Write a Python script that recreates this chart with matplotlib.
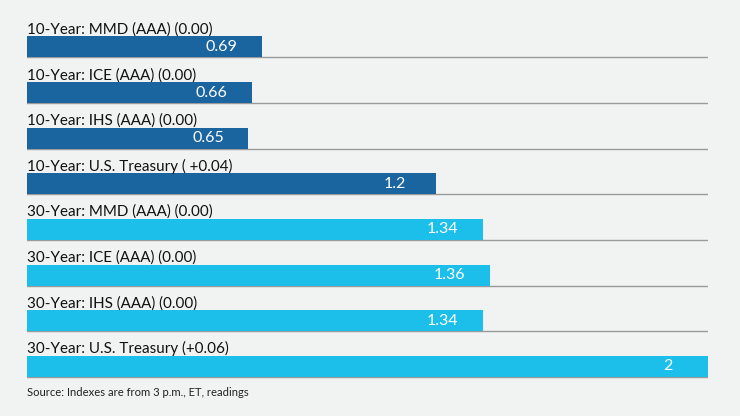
import matplotlib
matplotlib.use("Agg")
import matplotlib.pyplot as plt

LABELS = [
    "10-Year: MMD (AAA) (0.00)",
    "10-Year: ICE (AAA) (0.00)",
    "10-Year: IHS (AAA) (0.00)",
    "10-Year: U.S. Treasury ( +0.04)",
    "30-Year: MMD (AAA) (0.00)",
    "30-Year: ICE (AAA) (0.00)",
    "30-Year: IHS (AAA) (0.00)",
    "30-Year: U.S. Treasury (+0.06)",
]
VALUES = [0.69, 0.66, 0.65, 1.2, 1.34, 1.36, 1.34, 2]
VALUE_TEXT = ["0.69", "0.66", "0.65", "1.2", "1.34", "1.36", "1.34", "2"]
TENOR = ["10", "10", "10", "10", "30", "30", "30", "30"]
SOURCE = "Source: Indexes are from 3 p.m., ET, readings"

BG = "#f1f2f2"
COLORS = {"10": "#1a65a0", "30": "#1cbeea"}
BAR_H = 0.46

plt.rcParams["font.family"] = ["Lato", "DejaVu Sans"]

fig = plt.figure(figsize=(7.4, 4.16), dpi=100, facecolor=BG)
ax = fig.add_axes([27 / 740, 0, 681 / 740, 1])
ax.set_facecolor(BG)

ypos = list(range(len(VALUES)))
ax.barh(ypos, VALUES, height=BAR_H,
        color=[COLORS[t] for t in TENOR], zorder=2)

for y, v, txt, lab in zip(ypos, VALUES, VALUE_TEXT, LABELS):
    ax.axhline(y + BAR_H / 2, color="#9a9a9a", lw=1, zorder=1)
    ax.text(0, y - 0.29, lab, fontsize=10.9, color="#111111",
            ha="left", va="baseline")
    ax.annotate(txt, (v, y), xytext=(-29, 0), textcoords="offset points",
                ha="center", va="center", color="white", fontsize=11.5, zorder=3)

ax.set_xlim(0, 2)
ax.set_ylim(8.09, -1.03)
ax.axis("off")

fig.text(27 / 740, 1 - 393 / 416, SOURCE, fontsize=8.1, color="#222222",
         ha="left", va="center")

fig.savefig("out.png", dpi=100, facecolor=BG)
